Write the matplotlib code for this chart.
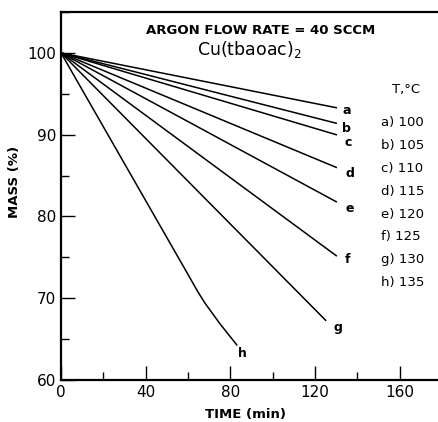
import matplotlib.pyplot as plt
from matplotlib.ticker import MultipleLocator

# time (min) and mass (%) per curve
labels = ["a", "b", "c", "d", "e", "f", "g", "h"]
temps = ["100", "105", "110", "115", "120", "125", "130", "135"]
t_a = [0, 130]; m_a = [100, 93.3]
t_b = [0, 130]; m_b = [100, 91.4]
t_c = [0, 130]; m_c = [100, 90.0]
t_d = [0, 130]; m_d = [100, 86.0]
t_e = [0, 130]; m_e = [100, 81.8]
t_f = [0, 130]; m_f = [100, 75.2]
t_g = [0, 125]; m_g = [100, 67.3]
t_h = [0, 60, 64.6, 68, 75, 83]; m_h = [100, 72.9, 70.8, 69.4, 66.9, 64.3]

times = [t_a, t_b, t_c, t_d, t_e, t_f, t_g, t_h]
masses = [m_a, m_b, m_c, m_d, m_e, m_f, m_g, m_h]

fig = plt.figure(figsize=(4.39, 4.22), dpi=100)
ax = fig.add_axes([0.139, 0.0995, 0.856, 0.872])

# label offsets (data units) from the line ends
lab_dx = [4.9, 4.9, 5.8, 6.3, 6.3, 5.4, 5.7, 2.8]
lab_dy = [-0.4, -0.6, -1.0, -0.7, -0.8, -0.5, -0.9, -1.1]
for t, m, lab, dx, dy in zip(times, masses, labels, lab_dx, lab_dy):
    ax.plot(t, m, color="black", lw=1.1)
    ax.text(t[-1] + dx, m[-1] + dy, lab, fontsize=9, fontweight="bold",
            ha="center", va="center")

ax.set_xlim(0, 177.5)
ax.set_ylim(60, 105)
ax.xaxis.set_major_locator(MultipleLocator(40))
ax.xaxis.set_minor_locator(MultipleLocator(20))
ax.yaxis.set_major_locator(MultipleLocator(10))
ax.yaxis.set_minor_locator(MultipleLocator(5))
ax.tick_params(which="both", direction="in", width=1.0, labelsize=11)
ax.tick_params(which="major", length=10)
ax.tick_params(which="minor", length=6)
ax.spines["right"].set_visible(False)
for s in ["left", "bottom", "top"]:
    ax.spines[s].set_linewidth(1.6)

ax.set_xlabel("TIME (min)", fontsize=9.5, fontweight="bold")
ax.xaxis.set_label_coords(0.49, -0.075)
ax.set_ylabel("MASS (%)", fontsize=9.5, fontweight="bold")
ax.yaxis.set_label_coords(-0.106, 0.538)

ax.text(94.3, 102.8, "ARGON FLOW RATE = 40 SCCM", fontsize=9.5, fontweight="bold",
        ha="center", va="center")
ax.text(89, 100.4, r"Cu(tbaoac)$_2$", fontsize=12.5, ha="center", va="center")

ax.text(163, 95.5, "T,°C", fontsize=9.5, ha="center", va="center")
for i, (lab, tp) in enumerate(zip(labels, temps)):
    ax.text(151, 91.46 - i * 2.79, lab + ") " + tp, fontsize=9.5,
            ha="left", va="center")

plt.savefig("out.png", dpi=100)
